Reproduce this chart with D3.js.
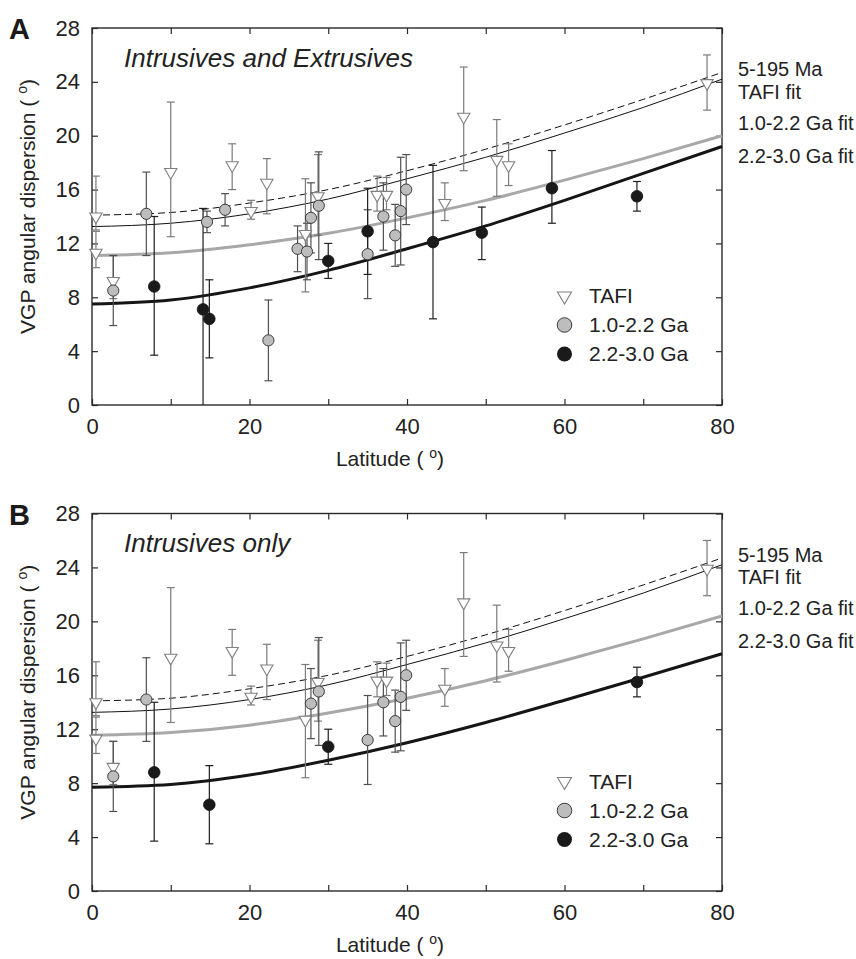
<!DOCTYPE html>
<html><head><meta charset="utf-8">
<script src="https://cdn.jsdelivr.net/npm/d3@7"></script>
<style>body{margin:0;background:#fff}</style>
</head><body><svg id="c" width="856" height="959"></svg>
<script>
// ---------- DATA ----------
// TAFI (same in both panels)
const tafiLat = [0.5, 0.5, 2.7, 10.0, 17.8, 20.2, 22.2, 27.1, 28.7, 36.2, 37.4, 44.8, 47.2, 51.4, 52.9, 78.1];
const tafiVal = [14.0, 11.3, 9.2, 17.3, 17.8, 14.4, 16.5, 12.7, 15.5, 15.6, 15.6, 15.0, 21.4, 18.2, 17.8, 23.9];
const tafiLo  = [13.0, 10.2, 7.9, 12.5, 16.0, 13.8, 14.2, 8.4, 12.6, 14.4, 14.5, 13.7, 17.4, 15.5, 16.3, 21.9];
const tafiHi  = [17.0, 12.9, 11.1, 22.5, 19.4, 15.2, 18.3, 16.8, 18.6, 17.0, 16.9, 16.5, 25.1, 21.2, 19.4, 26.0];

// Panel A: 1.0-2.2 Ga
const grayLatA = [2.7, 6.9, 14.6, 16.9, 22.4, 26.1, 27.3, 27.8, 28.8, 35.0, 37.0, 38.5, 39.2, 39.9];
const grayValA = [8.5, 14.2, 13.6, 14.5, 4.8, 11.6, 11.4, 13.9, 14.8, 11.2, 14.0, 12.6, 14.4, 16.0];
const grayLoA  = [5.9, 11.1, 12.8, 13.3, 1.8, 9.9, 9.3, 11.3, 10.8, 7.9, 11.5, 10.3, 10.4, 13.4];
const grayHiA  = [11.1, 17.3, 14.4, 15.7, 7.8, 13.3, 13.5, 16.5, 18.8, 14.5, 16.5, 14.9, 18.4, 18.6];
// Panel A: 2.2-3.0 Ga
const blackLatA = [7.9, 14.1, 14.9, 30.0, 35.0, 43.3, 49.5, 58.4, 69.2];
const blackValA = [8.8, 7.1, 6.4, 10.7, 12.9, 12.1, 12.8, 16.1, 15.5];
const blackLoA  = [3.7, 0.0, 3.5, 9.4, 9.7, 6.4, 10.8, 13.5, 14.4];
const blackHiA  = [14.0, 14.6, 9.3, 12.0, 16.1, 17.8, 14.7, 18.9, 16.6];

// Panel B: 1.0-2.2 Ga (intrusives only)
const grayLatB = [2.7, 6.9, 27.8, 28.8, 35.0, 37.0, 38.5, 39.2, 39.9];
const grayValB = [8.5, 14.2, 13.9, 14.8, 11.2, 14.0, 12.6, 14.4, 16.0];
const grayLoB  = [5.9, 11.1, 11.3, 10.8, 7.9, 11.5, 10.3, 10.4, 13.4];
const grayHiB  = [11.1, 17.3, 16.5, 18.8, 14.5, 16.5, 14.9, 18.4, 18.6];
// Panel B: 2.2-3.0 Ga
const blackLatB = [7.9, 14.9, 30.0, 69.2];
const blackValB = [8.8, 6.4, 10.7, 15.5];
const blackLoB  = [3.7, 3.5, 9.4, 14.4];
const blackHiB  = [14.0, 9.3, 12.0, 16.6];

// Fit curves (sampled every 10 degrees latitude)
const curveLat   = [0, 10, 20, 30, 40, 50, 60, 70, 80];
const fit195Ma   = [14.1, 14.3, 15.0, 16.0, 17.4, 19.0, 20.8, 22.7, 24.7];
const fitTAFI    = [13.25, 13.5, 14.2, 15.3, 16.8, 18.4, 20.2, 22.1, 24.2];
const fitGrayA   = [11.1, 11.3, 11.9, 12.75, 13.9, 15.2, 16.7, 18.3, 20.0];
const fitBlackA  = [7.5, 7.8, 8.7, 10.0, 11.6, 13.3, 15.2, 17.2, 19.2];
const fitGrayB   = [11.55, 11.75, 12.3, 13.2, 14.3, 15.6, 17.1, 18.7, 20.4];
const fitBlackB  = [7.7, 7.9, 8.6, 9.7, 11.0, 12.5, 14.15, 15.85, 17.6];

const xTicks = [0, 10, 20, 30, 40, 50, 60, 70, 80];
const yTicks = [0, 4, 8, 12, 16, 20, 24, 28];
const legendLabels = ["TAFI", "1.0-2.2 Ga", "2.2-3.0 Ga"];
const fitLabels = ["5-195 Ma", "TAFI fit", "1.0-2.2 Ga fit", "2.2-3.0 Ga fit"];

// ---------- DRAWING ----------
const FONT = "'Liberation Sans', Arial, Helvetica, sans-serif";
const svg = d3.select("#c").style("font-family", FONT);
const left = 92, right = 722;
const x = d3.scaleLinear().domain([0, 80]).range([left, right]);
const AX = "#2a2a2a";

function zip(lat, val, lo, hi) { return lat.map((d, i) => ({lat: d, v: val[i], lo: lo ? lo[i] : null, hi: hi ? hi[i] : null})); }

function panel(cfg) {
  const top = cfg.top, bottom = cfg.bottom;
  const y = d3.scaleLinear().domain([0, 28]).range([bottom, top]);
  const g = svg.append("g");

  // axes
  const fmtX = d => (d % 20 === 0 ? d : "");
  const ax = [
    g.append("g").attr("transform", `translate(0,${bottom})`).call(d3.axisBottom(x).tickValues(xTicks).tickSize(-6).tickPadding(13).tickFormat(fmtX)),
    g.append("g").attr("transform", `translate(0,${top})`).call(d3.axisTop(x).tickValues(xTicks).tickSize(-6).tickFormat("")),
    g.append("g").attr("transform", `translate(${left},0)`).call(d3.axisLeft(y).tickValues(yTicks).tickSize(-6).tickPadding(12)),
    g.append("g").attr("transform", `translate(${right},0)`).call(d3.axisRight(y).tickValues(yTicks).tickSize(-6).tickFormat(""))
  ];
  ax.forEach(a => {
    a.select(".domain").remove();
    a.selectAll("line").attr("stroke", AX).attr("stroke-width", 1.2);
    a.selectAll("text").attr("fill", "#222").style("font-size", "22px").style("font-family", FONT);
  });
  g.append("rect").attr("x", left).attr("y", top).attr("width", right - left).attr("height", bottom - top)
    .attr("fill", "none").attr("stroke", AX).attr("stroke-width", 1.4);

  // curves
  const line = d3.line().x(d => x(d.lat)).y(d => y(d.v)).curve(d3.curveMonotoneX);
  const curves = [
    {vals: fit195Ma, stroke: "#111", w: 1, dash: "7,4"},
    {vals: fitTAFI, stroke: "#111", w: 1, dash: null},
    {vals: cfg.fitGray, stroke: "#a8a8a8", w: 3, dash: null},
    {vals: cfg.fitBlack, stroke: "#151515", w: 3, dash: null}
  ];
  curves.forEach(c => {
    g.append("path").datum(zip(curveLat, c.vals)).attr("d", line)
      .attr("fill", "none").attr("stroke", c.stroke).attr("stroke-width", c.w)
      .attr("stroke-dasharray", c.dash);
  });

  // error bars
  function errs(data, color) {
    const e = g.append("g").attr("stroke", color).attr("stroke-width", 1.2);
    data.forEach(d => {
      e.append("line").attr("x1", x(d.lat)).attr("x2", x(d.lat)).attr("y1", y(d.lo)).attr("y2", y(d.hi));
      [d.lo, d.hi].forEach(v => {
        if (v <= 0) return;
        e.append("line").attr("x1", x(d.lat) - 4).attr("x2", x(d.lat) + 4).attr("y1", y(v)).attr("y2", y(v));
      });
    });
  }
  const tafi = zip(tafiLat, tafiVal, tafiLo, tafiHi);
  const gray = zip(cfg.grayLat, cfg.grayVal, cfg.grayLo, cfg.grayHi);
  const black = zip(cfg.blackLat, cfg.blackVal, cfg.blackLo, cfg.blackHi);
  errs(tafi, "#7a7a7a");
  errs(gray, "#505050");
  errs(black, "#1e1e1e");

  // markers
  const tri = d3.symbol().type(d3.symbolTriangle).size(66);
  g.append("g").selectAll("path").data(tafi).join("path")
    .attr("d", tri).attr("transform", d => `translate(${x(d.lat)},${y(d.v)}) rotate(180)`)
    .attr("fill", "#fff").attr("stroke", "#808080").attr("stroke-width", 1.1);
  g.append("g").selectAll("circle").data(gray).join("circle")
    .attr("cx", d => x(d.lat)).attr("cy", d => y(d.v)).attr("r", 5.6)
    .attr("fill", "#bdbdbd").attr("stroke", "#3a3a3a").attr("stroke-width", 1);
  g.append("g").selectAll("circle").data(black).join("circle")
    .attr("cx", d => x(d.lat)).attr("cy", d => y(d.v)).attr("r", 5.8)
    .attr("fill", "#1a1a1a").attr("stroke", "#111").attr("stroke-width", 0.8);

  // panel letter and title
  g.append("text").attr("x", 9).attr("y", top + 11).text(cfg.letter)
    .style("font-size", "29px").style("font-weight", "bold").attr("fill", "#1a1a1a");
  g.append("text").attr("x", 124).attr("y", top + 38.5).text(cfg.title)
    .style("font-size", "26px").style("font-style", "italic").attr("fill", "#222");

  // axis titles
  const xt = g.append("text").attr("x", 390).attr("y", bottom + 61)
    .attr("text-anchor", "middle").style("font-size", "21px").attr("fill", "#222");
  xt.append("tspan").text("Latitude ( ");
  xt.append("tspan").text("o").style("font-size", "14px").attr("dy", -8);
  xt.append("tspan").text(")").attr("dy", 8);
  const yt = g.append("text").attr("transform", `translate(35,${(top + bottom) / 2 - 10}) rotate(-90)`)
    .attr("text-anchor", "middle").style("font-size", "21px").attr("fill", "#222");
  yt.append("tspan").text("VGP angular dispersion ( ");
  yt.append("tspan").text("o").style("font-size", "14px").attr("dy", -8);
  yt.append("tspan").text(")").attr("dy", 8);

  // right-hand fit labels
  const fy = [48, 70.5, 101.5, 134.5];
  fitLabels.forEach((t, i) => {
    g.append("text").attr("x", 738).attr("y", top + fy[i]).text(t)
      .style("font-size", "20px").attr("fill", "#222");
  });

  // legend
  const ly = [268, 297, 326].map(v => top + v);
  g.append("path").attr("d", d3.symbol().type(d3.symbolTriangle).size(85))
    .attr("transform", `translate(564.5,${ly[0]}) rotate(180)`)
    .attr("fill", "#fff").attr("stroke", "#808080").attr("stroke-width", 1.1);
  g.append("circle").attr("cx", 564.5).attr("cy", ly[1]).attr("r", 7.3)
    .attr("fill", "#bdbdbd").attr("stroke", "#3a3a3a").attr("stroke-width", 1);
  g.append("circle").attr("cx", 564.5).attr("cy", ly[2]).attr("r", 7.5)
    .attr("fill", "#1a1a1a");
  legendLabels.forEach((t, i) => {
    g.append("text").attr("x", 589).attr("y", ly[i] + 7).text(t)
      .style("font-size", "21px").attr("fill", "#222");
  });
}

panel({top: 28, bottom: 405, letter: "A", title: "Intrusives and Extrusives",
  grayLat: grayLatA, grayVal: grayValA, grayLo: grayLoA, grayHi: grayHiA,
  blackLat: blackLatA, blackVal: blackValA, blackLo: blackLoA, blackHi: blackHiA,
  fitGray: fitGrayA, fitBlack: fitBlackA});
panel({top: 513.5, bottom: 891, letter: "B", title: "Intrusives only",
  grayLat: grayLatB, grayVal: grayValB, grayLo: grayLoB, grayHi: grayHiB,
  blackLat: blackLatB, blackVal: blackValB, blackLo: blackLoB, blackHi: blackHiB,
  fitGray: fitGrayB, fitBlack: fitBlackB});
</script>
</body></html>
